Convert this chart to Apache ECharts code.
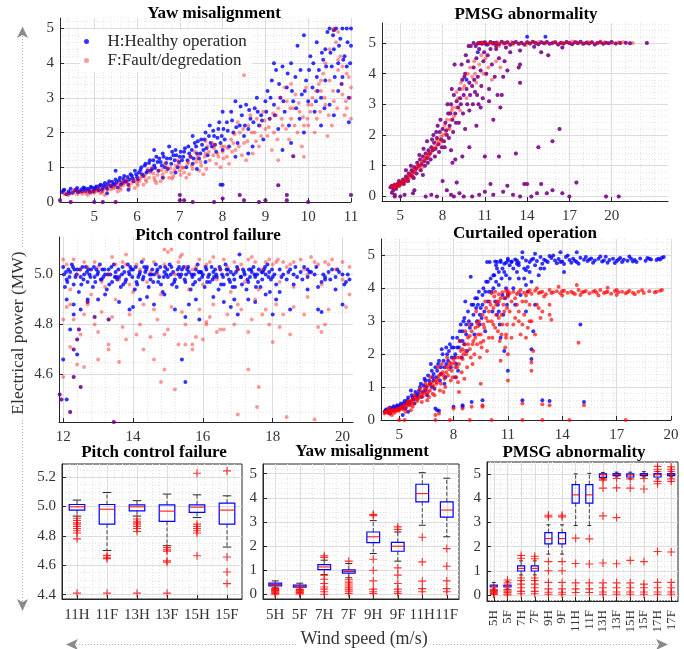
<!DOCTYPE html>
<html><head><meta charset="utf-8">
<script src="https://cdn.jsdelivr.net/npm/echarts@6/dist/echarts.min.js"></script>
<style>html,body{margin:0;padding:0;background:#fff}#c{width:684px;height:649px}</style>
</head><body><div id="c"></div>
<script>
// ---------------- DATA ----------------
// Yaw misalignment scatter [wind speed, power]
const yawH = [[4.25,0.28],[4.3,0.35],[4.35,0.22],[4.4,0.3],[4.45,0.38],[4.5,0.27],[4.55,0.33],[4.6,0.4],[4.65,0.3],[4.7,0.36],[4.75,0.42],[4.8,0.32],[4.85,0.38],[4.9,0.28],[4.95,0.41],[5.0,0.35],
[5.05,0.45],[5.1,0.33],[5.15,0.5],[5.2,0.4],[5.25,0.55],[5.3,0.38],[5.35,0.6],[5.4,0.45],[5.45,0.52],[5.5,0.65],[5.55,0.42],[5.6,0.7],[5.65,0.55],[5.7,0.75],[5.75,0.6],[5.8,0.5],[5.85,0.8],[5.9,0.68],[5.95,0.9],[6.0,0.72],[5.5,0.9],[5.3,0.25],[5.8,0.35],
[6.05,0.85],[6.1,1.0],[6.15,0.75],[6.2,1.1],[6.25,0.9],[6.3,1.2],[6.35,0.95],[6.4,1.05],[6.45,1.3],[6.5,0.9],[6.55,1.15],[6.6,1.4],[6.65,1.0],[6.7,1.25],[6.75,1.6],[6.8,1.1],[6.85,1.35],[6.9,1.5],[6.95,1.0],[7.0,1.3],[6.6,0.7],[6.4,1.5],[6.9,0.85],
[7.05,1.2],[7.1,1.45],[7.15,1.0],[7.2,1.6],[7.25,1.3],[7.3,1.1],[7.35,1.7],[7.4,1.4],[7.45,1.25],[7.5,1.8],[7.55,1.5],[7.6,2.0],[7.65,1.35],[7.7,2.2],[7.75,1.6],[7.8,1.9],[7.85,1.45],[7.9,2.1],[7.95,1.7],[8.0,1.5],[7.3,1.9],[7.6,1.15],[7.4,0.95],
[8.05,1.8],[8.1,2.3],[8.15,1.6],[8.2,2.6],[8.25,2.0],[8.3,2.9],[8.35,1.7],[8.4,2.2],[8.45,2.5],[8.5,1.9],[8.55,2.8],[8.6,2.1],[8.65,2.4],[8.7,1.6],[8.75,2.7],[8.8,3.0],[8.85,2.2],[8.9,2.5],[8.95,1.8],[9.0,2.9],[8.3,1.3],[8.6,1.4],[8.0,2.6],[7.95,0.5],[8.0,0.5],
[9.05,3.2],[9.1,2.4],[9.15,3.5],[9.2,2.8],[9.25,3.8],[9.3,2.1],[9.35,3.0],[9.4,3.9],[9.45,2.6],[9.5,3.3],[9.55,2.2],[9.6,4.0],[9.65,2.9],[9.7,3.6],[9.75,4.5],[9.8,2.4],[9.85,3.1],[9.9,4.8],[9.95,3.5],[10.0,2.9],[9.2,4.0],[9.6,1.7],[9.9,2.0],[9.4,1.5],
[10.05,4.2],[10.1,3.3],[10.15,2.6],[10.2,4.6],[10.25,3.8],[10.3,3.0],[10.35,4.1],[10.4,3.5],[10.45,4.9],[10.5,2.8],[10.55,3.9],[10.6,4.4],[10.65,5.0],[10.7,3.2],[10.75,4.7],[10.8,3.6],[10.85,4.2],[10.9,5.0],[10.95,3.0],[11.0,4.5],[10.3,2.2],[10.6,2.5],[10.8,5.0],[10.4,4.4],[10.7,4.0],[10.2,3.6],[10.9,3.9],[10.5,5.0],[11.0,5.0],[10.95,2.3]];
const yawHmore = [[4.28,0.33],[4.42,0.25],[4.58,0.36],[4.62,0.28],[4.72,0.31],[4.78,0.39],[4.88,0.34],[4.92,0.44],[4.98,0.3],[5.02,0.4],[5.08,0.38],[5.12,0.46],[5.18,0.35],[5.22,0.48],[5.28,0.44],[5.32,0.52],[5.38,0.47],[5.42,0.58],[5.48,0.5],[5.52,0.56],[5.58,0.62],[5.62,0.5],[5.68,0.66],[5.72,0.58],[5.78,0.72],[5.82,0.65],[5.88,0.75],[5.92,0.6],[5.98,0.8],[6.02,0.65],[6.08,0.92],[6.12,0.8],[6.18,1.05],[6.22,0.85],[6.28,1.12],[6.32,0.9],[6.38,1.2],[6.42,0.98],[6.48,1.15],[6.52,1.25],[6.58,1.05],[6.62,1.3],[6.68,1.12],[6.72,0.95],[6.78,1.25],[6.82,1.45],[6.88,1.2],[6.92,1.35],[6.98,1.15],[7.02,1.45],[7.08,1.3],[7.12,1.55],[7.18,1.2],[7.22,1.4],[7.28,1.5],[7.32,1.25],[7.38,1.6],[7.42,1.75],[7.48,1.4],[7.52,1.65],[7.58,1.8],[7.62,1.55],[7.68,1.9],[7.72,1.7],[7.78,2.05],[7.82,1.65],[7.88,1.85],[7.92,2.3],[7.98,1.9],[8.02,2.1],[8.12,2.05],[8.22,2.35],[8.32,2.15],[8.42,2.75],[8.52,2.2],[8.62,2.65],[8.72,2.3],[8.82,2.6],[8.92,2.35],[9.02,2.6],[9.12,3.0],[9.22,2.5],[9.32,3.4],[9.42,2.9],[9.52,3.7],[9.62,3.2],[9.72,2.7],[9.82,3.8],[9.92,3.2],[10.02,3.8],[10.12,4.0],[10.22,3.2],[10.32,4.3],[10.42,3.9],[10.52,4.3],[10.62,3.6],[10.72,4.5],[10.82,4.1],[10.92,4.6],[10.98,4.0],[10.58,4.8],[10.78,3.4],[10.38,2.7],[10.18,2.9]];
const yawF = [[4.3,0.25],[4.4,0.2],[4.5,0.3],[4.6,0.22],[4.7,0.28],[4.8,0.25],[4.9,0.32],[5.0,0.27],[4.55,0.35],[4.85,0.2],
[5.05,0.3],[5.1,0.4],[5.2,0.32],[5.3,0.45],[5.4,0.36],[5.5,0.5],[5.6,0.42],[5.7,0.55],[5.8,0.48],[5.9,0.62],[6.0,0.55],[5.25,0.2],[5.55,0.3],[5.75,0.65],[5.95,0.4],[5.15,0.25],[5.65,0.6],[5.45,0.42],
[6.05,0.6],[6.1,0.75],[6.2,0.65],[6.3,0.85],[6.4,0.7],[6.5,0.9],[6.6,0.8],[6.7,1.0],[6.8,0.85],[6.9,1.05],[7.0,0.9],[6.15,0.5],[6.35,1.0],[6.55,0.6],[6.75,0.7],[6.95,1.2],[6.25,0.95],[6.45,0.55],[6.65,1.1],[6.85,0.75],
[7.05,1.0],[7.1,0.85],[7.2,1.15],[7.3,0.95],[7.4,1.25],[7.5,1.05],[7.6,1.4],[7.7,1.2],[7.8,1.55],[7.9,1.3],[8.0,1.45],[7.15,0.7],[7.35,1.45],[7.55,0.8],[7.75,1.7],[7.95,1.0],[7.25,1.3],[7.45,0.9],[7.65,1.6],[7.85,1.1],[7.6,1.75],
[8.05,1.6],[8.1,1.3],[8.2,1.8],[8.3,1.5],[8.4,2.0],[8.5,1.7],[8.6,2.2],[8.7,1.4],[8.8,2.4],[8.9,1.9],[9.0,2.1],[8.15,1.1],[8.35,2.3],[8.55,1.2],[8.75,2.0],[8.95,2.6],[8.25,1.7],[8.45,1.35],[8.65,2.5],[8.85,1.6],[8.5,3.65],
[9.05,1.9],[9.1,2.4],[9.2,2.0],[9.3,2.7],[9.4,2.2],[9.5,2.9],[9.6,2.4],[9.7,3.1],[9.8,2.6],[9.9,2.2],[10.0,2.8],[9.15,1.5],[9.35,3.0],[9.55,1.8],[9.75,2.0],[9.95,3.3],[9.25,2.5],[9.45,3.3],[9.65,2.7],[9.85,1.6],[9.3,1.2],[9.9,1.3],
[10.05,2.6],[10.1,3.0],[10.2,2.4],[10.3,3.2],[10.4,2.8],[10.5,3.5],[10.6,2.9],[10.7,3.8],[10.8,3.1],[10.9,2.7],[11.0,3.3],[10.15,2.0],[10.35,3.7],[10.55,2.2],[10.75,4.2],[10.95,3.6],[10.25,3.4],[10.45,1.9],[10.65,4.6],[10.85,2.5],[10.6,5.0],[10.7,4.9],[11.0,2.4],[10.4,4.0],[10.8,3.9]];
const yawFmore = [[4.32,0.22],[4.48,0.26],[4.62,0.3],[4.72,0.24],[4.82,0.3],[4.92,0.26],[4.98,0.34],[5.08,0.35],[5.18,0.28],[5.22,0.38],[5.32,0.36],[5.38,0.48],[5.48,0.4],[5.58,0.52],[5.62,0.35],[5.68,0.48],[5.78,0.56],[5.82,0.42],[5.88,0.55],[5.98,0.66],[6.02,0.48],[6.08,0.68],[6.18,0.78],[6.22,0.58],[6.28,0.7],[6.38,0.82],[6.42,0.62],[6.48,0.78],[6.58,0.92],[6.62,0.7],[6.68,0.88],[6.78,0.98],[6.82,0.68],[6.88,0.92],[6.98,1.08],[7.02,0.78],[7.08,0.98],[7.18,1.1],[7.22,0.8],[7.28,1.05],[7.38,1.15],[7.42,1.35],[7.48,1.15],[7.58,1.3],[7.62,0.95],[7.68,1.45],[7.78,1.35],[7.82,1.65],[7.88,1.4],[7.98,1.6],[8.02,1.25],[8.12,1.55],[8.22,1.45],[8.28,1.95],[8.38,1.6],[8.48,2.1],[8.58,1.75],[8.68,2.0],[8.78,1.75],[8.88,2.2],[8.98,2.35],[9.08,2.15],[9.18,2.55],[9.28,1.8],[9.38,2.4],[9.48,2.1],[9.58,2.7],[9.68,2.2],[9.78,2.85],[9.88,2.45],[9.98,2.4],[10.08,2.8],[10.18,3.2],[10.28,2.6],[10.38,3.0],[10.48,2.5],[10.58,3.2],[10.68,2.7],[10.78,3.4],[10.88,2.9],[10.98,3.0],[10.5,4.4],[10.7,4.1],[10.9,3.7],[10.3,3.5],[10.0,2.2],[9.6,3.4]];
const yawBoth = [[4.2,0.05],[4.45,0.0],[5.0,0.0],[5.2,0.0],[5.5,0.0],[7.0,0.2],[7.0,0.05],[7.1,0.05],[7.3,0.0],[7.8,0.0],[8.0,0.1],[8.4,0.2],[8.5,0.05],[8.85,0.0],[9.0,0.05],[9.3,0.48],[9.5,0.2],[9.5,0.05],[9.65,1.32],[10.0,0.0],[10.6,4.95],[11.0,0.2]];

// PMSG abnormality scatter
const pmsgBoth = [[4.3,0.3],[4.4,0.35],[4.5,0.28],[4.6,0.38],[4.7,0.33],[4.8,0.4],[4.9,0.35],[5.0,0.42],[4.5,0.2],[4.7,0.25],[4.4,0.12],[4.6,0.05],[4.9,0.5],
[5.1,0.45],[5.2,0.55],[5.3,0.5],[5.4,0.65],[5.5,0.6],[5.6,0.75],[5.7,0.7],[5.8,0.85],[5.9,0.8],[6.0,0.95],[5.25,0.4],[5.55,0.5],[5.85,0.65],[5.4,0.85],[5.75,1.0],[5.95,0.6],
[6.1,0.9],[6.2,1.1],[6.3,1.0],[6.4,1.2],[6.5,1.05],[6.6,1.3],[6.7,1.15],[6.8,1.4],[6.9,1.25],[7.0,1.5],[6.15,0.75],[6.45,0.85],[6.75,1.0],[6.35,1.35],[6.65,1.55],[6.95,1.1],[6.6,0.7],[6.9,1.8],
[7.1,1.4],[7.2,1.6],[7.3,1.5],[7.4,1.75],[7.5,1.55],[7.6,1.9],[7.7,1.7],[7.8,2.1],[7.9,1.85],[8.0,2.2],[7.15,1.2],[7.45,1.3],[7.75,1.45],[7.35,2.0],[7.65,2.3],[7.95,1.6],[7.55,2.1],[7.85,2.5],[7.25,1.85],
[8.1,1.8],[8.2,2.4],[8.3,2.0],[8.4,2.7],[8.5,2.3],[8.6,3.0],[8.7,2.5],[8.8,3.3],[8.9,2.7],[9.0,3.1],[8.15,1.6],[8.45,1.9],[8.75,2.1],[8.35,3.0],[8.65,3.5],[8.95,2.4],[8.55,2.7],[8.85,4.3],[8.25,2.15],[8.6,1.5],[8.9,1.2],[8.7,1.1],
[9.1,2.9],[9.2,3.5],[9.3,3.0],[9.4,3.8],[9.5,3.3],[9.6,4.0],[9.7,3.5],[9.8,4.4],[9.9,3.7],[10.0,4.9],[9.15,2.4],[9.45,2.7],[9.75,3.0],[9.35,4.3],[9.65,4.6],[9.95,3.3],[9.55,3.9],[9.85,4.9],[9.25,3.2],[9.6,2.2],[9.9,1.6],[9.4,1.3],[9.9,2.8],
[10.1,3.6],[10.2,4.2],[10.3,3.4],[10.4,4.5],[10.5,3.9],[10.6,4.8],[10.7,4.1],[10.8,5.0],[10.9,4.4],[11.0,5.0],[10.15,3.0],[10.45,3.3],[10.75,3.6],[10.35,4.9],[10.65,5.0],[10.95,4.7],[10.55,3.0],[10.85,3.2],[10.25,3.8],[10.5,4.98],[10.4,2.3],[10.7,2.9],[10.2,5.0],
[11.1,4.0],[11.2,4.6],[11.3,3.5],[11.4,4.8],[11.5,4.3],[11.6,5.0],[11.7,3.9],[11.8,4.9],[11.9,3.3],[12.0,4.5],[12.2,3.3],[12.4,4.4],[12.6,4.1],[12.8,4.7],[11.3,3.1],[12.1,2.9],[11.6,2.5],[12.3,3.9],
[10.6,5.0],[10.8,4.97],[11.0,5.02],[11.2,4.95],[11.4,5.03],[11.6,4.98],[11.8,5.01],[12.0,4.96],[12.2,5.04],[12.4,4.99],[12.6,5.02],[12.8,4.94],[13.0,5.0],[13.2,5.03],[13.4,4.97],[13.6,5.01],[13.8,4.95],[14.0,5.02],[14.2,4.98],[14.4,5.04],[14.6,5.0],[14.8,4.96],[15.0,5.02],[15.2,4.99],[15.4,5.03],[15.6,4.97],[15.8,5.0],[16.0,5.02],[16.2,4.95],[16.4,5.01],[16.6,4.98],[16.8,5.03],[17.0,5.0],[17.2,4.96],[17.4,5.02],[17.6,4.99],[17.8,5.04],[18.0,4.97],[18.2,5.01],[18.4,4.98],[18.6,5.02],[18.8,4.95],[19.0,5.0],[19.2,5.02],[19.4,4.97],[19.6,5.01],[19.8,4.99],[20.0,5.03],[20.3,4.98],[20.6,5.0],[21.0,5.01],[21.3,4.99],[22.5,5.0],
[12.5,4.85],[13.5,4.75],[15.0,4.7],[15.5,4.6],[16.5,4.85],[14.5,4.88],[11.8,4.8],
[11.0,1.3],[12.0,1.3],[13.2,1.4],[14.8,1.6],[15.8,1.8],[16.3,2.2],[13.5,3.7],[13.5,4.3],[13.4,4.2],
[4.6,0.0],[5.0,0.0],[5.3,0.05],[6.0,0.2],[7.2,0.05],[7.6,0.0],[8.0,0.5],[8.3,0.2],[8.6,0.05],[9.0,0.45],[9.2,0.1],[9.5,0.0],[10.6,0.05],[11.0,0.15],[11.4,0.4],[11.6,0.05],[12.3,0.15],[12.6,0.35],[13.5,0.0],[13.8,0.4],[14.0,0.4],[14.3,0.0],[14.7,0.1],[15.0,0.4],[15.4,0.1],[15.8,0.2],[16.5,0.1],[17.0,0.0],[17.5,0.45],[19.6,0.0],[20.5,0.0],[5.9,0.1],[6.8,0.0],[8.8,0.0],[10.1,0.0],[13.0,0.05]];
const pmsgFonly = [[4.8,0.38],[5.2,0.48],[5.6,0.68],[6.0,0.85],[6.4,1.0],[6.8,1.2],[7.2,1.45],[7.6,1.65],[8.0,1.8],[8.3,2.5],[8.7,2.9],[9.0,3.4],[9.3,3.7],[10.3,4.0],[11.5,4.97],[12.5,5.0],[14.5,5.02],[16.5,4.99],[18.5,5.01],[20.5,5.02],[13.0,4.95],[5.5,0.55],[6.6,1.1],[7.8,1.75],[4.6,0.32],[5.0,0.36],[6.2,0.95],[7.0,1.3],[8.2,2.05],[8.5,2.2]];
const pmsgFmore = [[4.4,0.32],[4.55,0.36],[4.7,0.3],[4.85,0.42],[5.05,0.45],[5.15,0.4],[5.35,0.55],[5.45,0.5],[5.65,0.6],[5.8,0.75],[5.9,0.7],[6.05,0.8],[6.25,1.0],[6.3,0.9],[6.5,1.15],[6.55,0.95],[6.7,1.25],[6.85,1.3],[6.95,1.4],[7.05,1.35],[7.3,1.55],[7.45,1.6],[7.55,1.8],[7.7,1.85],[7.9,1.95],[8.05,2.0],[8.15,2.3],[8.4,2.2],[8.55,2.5],[8.65,2.8],[8.8,2.6],[8.95,2.9],[9.1,3.2],[9.25,2.8],[9.4,3.5],[9.55,3.6],[9.7,3.2],[9.8,4.0],[9.95,4.2],[10.1,3.9],[10.25,4.4],[10.4,3.7],[10.6,4.3],[10.75,4.6],[10.9,4.0],[11.05,4.5],[11.25,4.2],[11.5,3.8],[11.8,4.4],[12.1,4.2],[10.8,5.02],[11.3,4.98],[11.9,5.02],[12.3,4.97],[12.9,5.03],[13.5,4.98],[14.1,5.01],[14.8,5.03],[15.3,4.98],[15.9,5.02],[16.3,4.97],[16.9,5.01],[17.5,5.03],[17.9,4.98],[18.3,5.03],[18.9,4.99],[19.5,5.02],[20.1,4.99],[20.8,5.03],[21.5,5.0],[12.0,4.9],[13.9,4.93],[17.2,5.05],[19.2,5.05]];
const pmsgHonly = [[14.0,5.2],[15.3,5.2],[10.5,4.7],[9.7,3.8],[11.1,4.95]];

// Pitch control failure scatter
const pitchH = [[12.0,5.03],[12.1,4.98],[12.2,5.01],[12.3,4.96],[12.4,5.02],[12.5,4.99],[12.6,5.0],[12.7,4.97],[12.8,5.02],[12.9,4.99],[13.0,5.01],[13.1,4.98],[13.2,5.0],[13.3,5.02],[13.4,4.97],[13.5,5.01],[13.6,4.99],[13.7,5.03],[13.8,4.98],[13.9,5.0],[14.0,5.02],[14.1,4.97],[14.2,5.01],[14.3,4.99],[14.4,5.03],[14.5,4.98],[14.6,5.0],[14.7,5.02],[14.8,4.96],[14.9,5.01],[15.0,4.99],[15.1,5.03],[15.2,4.98],[15.3,5.0],[15.4,5.02],[15.5,4.97],[15.6,5.01],[15.7,4.99],[15.8,5.02],[15.9,4.98],[16.0,5.0],[16.1,5.02],[16.2,4.97],[16.3,5.01],[16.4,4.99],[16.5,5.02],[16.6,4.96],[16.7,5.0],[16.8,5.01],[16.9,4.98],[17.0,5.02],[17.1,4.99],[17.2,5.0],[17.3,4.97],[17.4,5.01],[17.5,4.99],[17.6,5.02],[17.7,4.98],[17.8,5.0],[17.9,5.01],[18.0,4.99],[18.2,5.02],[18.4,4.98],[18.6,5.0],[18.8,5.01],[19.0,4.99],[19.2,5.0],[19.4,4.97],[19.6,5.01],[19.8,4.99],[20.0,5.0],[20.2,4.98],
[12.05,4.95],[12.25,5.04],[12.45,4.93],[12.65,5.03],[12.85,4.95],[13.05,5.04],[13.25,4.94],[13.45,5.04],[13.65,4.95],[13.85,5.04],[14.05,4.94],[14.25,5.05],[14.45,4.95],[14.65,5.04],[14.85,4.93],[15.05,5.04],[15.25,4.95],[15.45,5.03],[15.65,4.94],[15.85,5.04],[16.05,4.95],[16.25,5.03],[16.45,4.94],[16.65,5.04],[16.85,4.95],[17.05,5.08],[17.25,4.94],[17.45,5.03],[17.65,4.95],[17.85,5.04],[18.1,4.96],[18.5,5.02],[18.9,5.03],[19.3,4.95],[19.7,5.02],[20.1,4.97],
[12.1,4.9],[12.3,4.88],[12.5,4.86],[12.7,4.9],[13.2,4.92],[13.6,4.89],[13.9,4.86],[14.2,4.9],[14.6,4.88],[14.9,4.92],[15.2,4.86],[15.5,4.83],[15.8,4.9],[15.9,4.82],[16.3,4.91],[16.8,4.87],[17.0,4.84],[17.3,4.9],[17.5,4.89],[18.0,4.84],[18.1,4.9],[18.5,4.86],[19.0,4.94],[19.3,4.86],[19.4,4.85],[20.0,4.88],[12.2,4.78],[12.4,4.68],[12.0,4.66],[12.1,4.5],[15.4,4.66],[15.5,4.57],[12.3,4.84],[14.0,4.87],[16.6,4.89]];
const pitchHmore = [[12.02,5.0],[12.15,5.02],[12.35,4.99],[12.55,5.03],[12.75,5.0],[12.95,5.02],[13.15,4.99],[13.35,5.0],[13.55,4.98],[13.75,5.01],[13.95,5.02],[14.15,4.99],[14.35,5.01],[14.55,5.02],[14.75,4.99],[14.95,5.0],[15.15,5.01],[15.35,4.99],[15.55,5.02],[15.75,5.0],[15.95,5.01],[16.15,4.99],[16.35,5.02],[16.55,5.0],[16.75,4.98],[16.95,5.01],[17.15,5.02],[17.35,4.99],[17.55,5.0],[17.75,5.02],[17.95,4.98],[18.3,5.0],[18.7,4.99],[19.1,5.01],[19.5,4.98],[19.9,5.01],
[12.12,4.97],[12.32,5.02],[12.52,4.96],[12.72,5.02],[12.92,4.97],[13.12,5.02],[13.32,4.96],[13.52,4.99],[13.72,4.96],[13.92,5.03],[14.12,4.96],[14.32,5.03],[14.52,5.0],[14.72,4.97],[14.92,5.03],[15.12,4.96],[15.32,5.03],[15.52,5.0],[15.72,4.96],[15.92,5.01],[16.12,4.97],[16.32,4.99],[16.52,4.96],[16.72,5.02],[16.92,4.95],[17.12,4.96],[17.32,5.02],[17.52,4.95],[17.72,5.01],[17.92,4.93],[18.2,4.93],[18.6,4.96],[19.0,5.02],[19.5,4.99],[19.8,4.94],[20.15,5.0],[13.0,4.9],[14.4,4.91],[15.6,4.88],[16.9,4.9],[17.8,4.92]];
const pitchHband = [[12.08,5.01],[12.18,4.99],[12.28,5.03],[12.38,5.0],[12.48,5.02],[12.58,4.98],[12.68,5.01],[12.78,4.99],[12.88,5.03],[12.98,5.0],[13.08,4.98],[13.18,5.02],[13.28,5.0],[13.38,5.03],[13.48,4.99],[13.58,5.02],[13.68,5.0],[13.78,4.97],[13.88,5.01],[13.98,4.99],[14.08,5.03],[14.18,5.0],[14.28,4.98],[14.38,5.02],[14.48,5.0],[14.58,4.97],[14.68,5.01],[14.78,5.03],[14.88,4.99],[14.98,5.02],[15.08,5.0],[15.18,4.97],[15.28,5.02],[15.38,5.0],[15.48,4.98],[15.58,5.03],[15.68,5.0],[15.78,4.97],[15.88,5.01],[15.98,4.99],[16.08,5.03],[16.18,5.0],[16.28,4.98],[16.38,5.0],[16.48,5.03],[16.58,4.99],[16.68,5.02],[16.78,4.97],[16.88,5.0],[16.98,5.03],[17.08,4.99],[17.18,5.01],[17.28,4.98],[17.38,5.02],[17.48,5.0],[17.58,4.97],[17.68,5.01],[17.78,5.03],[17.88,4.99],[17.98,5.02],[18.05,5.0],[18.25,4.99],[18.45,5.01],[18.65,5.03],[18.85,4.98],[19.05,5.01],[19.25,5.03],[19.45,5.0],[19.65,4.98],[19.85,5.02],[20.05,4.96]];
const pitchF = [[12.0,5.06],[12.2,4.94],[12.4,5.0],[12.6,5.05],[12.8,4.92],[13.0,5.03],[13.2,4.95],[13.4,5.07],[13.6,4.98],[13.8,5.04],[14.0,4.93],[14.2,5.02],[14.4,4.97],[14.6,5.05],[14.8,4.92],[15.0,5.09],[15.2,5.0],[15.4,5.08],[15.6,4.94],[15.8,5.03],[16.0,4.96],[16.2,5.05],[16.4,4.98],[16.6,5.06],[16.8,4.93],[17.0,5.02],[17.2,4.97],[17.4,5.07],[17.6,4.94],[17.8,5.05],[18.0,5.04],[18.2,4.97],[18.4,5.03],[18.6,4.95],[18.8,5.06],[19.0,5.0],[19.2,5.05],[19.4,4.96],[19.6,5.04],[19.8,5.02],[20.0,4.98],[20.2,5.03],
[12.1,4.87],[12.3,4.82],[12.5,4.76],[12.7,4.88],[12.9,4.8],[13.1,4.85],[13.3,4.72],[13.5,4.9],[13.7,4.79],[13.9,4.84],[14.1,4.76],[14.3,4.88],[14.5,4.75],[14.7,4.82],[14.9,4.76],[15.1,4.87],[15.3,4.72],[15.5,4.8],[15.7,4.72],[15.9,4.86],[16.1,4.81],[16.3,4.88],[16.5,4.78],[16.7,4.84],[16.9,4.8],[17.1,4.86],[17.3,4.77],[17.5,4.9],[17.7,4.84],[17.9,4.8],[18.1,4.88],[18.3,4.84],[18.5,4.76],[18.9,4.84],[19.3,4.79],[19.4,4.77],[19.5,4.8],[20.1,4.87],
[12.0,4.82],[12.2,4.71],[12.4,4.64],[12.6,4.63],[13.3,4.7],[13.6,4.65],[14.6,4.66],[14.8,4.57],[14.9,4.62],[15.2,4.54],[15.5,4.72],[16.0,4.74],[17.0,4.44],[17.3,4.62],[17.6,4.55],[17.55,4.47],[18.4,4.43],[19.2,4.42],[12.0,4.59],[16.1,4.8],
[12.5,5.02],[13.5,5.04],[14.5,5.01],[15.5,5.03],[16.5,5.02],[17.5,5.05],[18.5,5.04],[19.5,5.05],[18.1,5.05],[18.3,5.05],[17.9,5.06],[19.1,5.07],[14.9,5.1],[15.1,5.1],[15.35,5.07],[13.8,5.08]];
const pitchFmore = [[12.1,5.04],[12.3,5.06],[12.7,5.03],[12.9,5.05],[13.1,4.97],[13.3,5.0],[13.7,5.05],[13.9,4.96],[14.1,5.04],[14.3,5.06],[14.7,5.0],[14.9,5.04],[15.3,5.05],[15.7,5.02],[15.9,5.06],[16.1,5.04],[16.3,5.07],[16.7,5.03],[16.9,5.05],[17.1,5.04],[17.3,5.06],[17.7,5.02],[18.15,5.06],[18.6,5.05],[18.9,5.02],[19.3,5.04],[19.7,5.06],[20.0,5.05],
[12.2,4.88],[12.6,4.84],[13.0,4.77],[13.4,4.83],[13.8,4.74],[14.2,4.8],[14.6,4.86],[15.0,4.78],[15.4,4.85],[15.8,4.75],[16.2,4.83],[16.6,4.78],[17.0,4.88],[17.4,4.82],[17.8,4.86],[18.2,4.79],[18.6,4.87],[19.0,4.91],[19.6,4.86],[20.2,4.92],[13.0,4.66],[14.3,4.7],[16.4,4.77],[18.0,4.73],[15.7,4.7]];
const pitchBoth = [[11.9,4.52],[11.95,4.5],[12.3,4.59],[12.4,4.74],[12.45,4.78],[12.3,4.7],[12.5,4.55],[12.2,4.45],[13.3,4.82],[12.9,4.83],[12.7,4.89],[13.45,4.41]];

// Curtailed operation scatter
const curtH = [[4.2,0.25],[4.3,0.32],[4.4,0.28],[4.5,0.38],[4.6,0.3],[4.7,0.42],[4.8,0.35],[4.9,0.45],[5.0,0.38],[4.5,0.2],
[5.1,0.5],[5.2,0.42],[5.3,0.58],[5.4,0.5],[5.5,0.68],[5.6,0.55],[5.7,0.75],[5.8,0.62],[5.9,0.85],[6.0,0.7],[5.35,0.35],[5.65,0.9],[5.85,0.5],[5.5,0.25],
[6.1,0.9],[6.2,1.1],[6.3,0.85],[6.4,1.25],[6.5,1.0],[6.6,1.35],[6.7,1.1],[6.8,1.5],[6.9,1.2],[7.0,1.6],[6.25,0.7],[6.55,0.75],[6.85,1.3],[6.45,1.2],[6.75,1.7],[6.95,0.95],
[7.1,1.5],[7.2,1.8],[7.3,1.4],[7.4,2.0],[7.5,1.6],[7.6,2.2],[7.7,1.8],[7.8,2.3],[7.9,1.9],[8.0,2.2],[7.25,1.2],[7.55,1.3],[7.85,1.6],[7.35,2.15],[7.65,2.0],[7.95,2.5],[7.0,0.35],[7.1,0.3],[7.5,1.1],
[8.1,2.0],[8.2,2.5],[8.3,2.2],[8.4,2.9],[8.5,2.4],[8.6,3.1],[8.7,2.6],[8.8,3.3],[8.9,2.8],[9.0,3.5],[8.15,1.7],[8.45,1.9],[8.75,2.1],[8.35,2.7],[8.65,3.6],[8.95,4.35],[8.25,1.5],[8.55,3.0],[8.1,1.3],[8.0,0.4],[8.5,0.4],
[9.1,3.2],[9.2,3.7],[9.3,3.0],[9.4,3.9],[9.5,3.4],[9.6,3.8],[9.7,3.3],[9.8,4.2],[9.9,3.6],[10.0,4.8],[9.15,2.6],[9.45,2.9],[9.75,2.7],[9.35,3.5],[9.65,4.0],[9.95,3.9],[9.55,3.1],[9.85,4.8],[9.25,3.4],[9.0,0.55],[9.6,0.6],
[10.1,3.9],[10.2,4.4],[10.3,3.6],[10.4,4.6],[10.5,4.1],[10.6,4.8],[10.7,3.8],[10.8,4.5],[10.9,4.0],[11.0,4.85],[10.15,3.3],[10.45,3.5],[10.75,3.2],[10.35,4.2],[10.65,4.3],[10.95,3.5],[10.55,2.9],[10.85,3.7],[10.25,4.4],[10.5,3.3],[10.6,2.5],[10.8,2.1],[10.4,3.2],
[11.1,4.3],[11.3,4.0],[11.5,4.5],[11.7,3.8],[11.9,4.6],[12.1,3.9],[12.3,4.2],[12.5,3.5],[12.4,2.7],[12.3,2.15],[12.3,1.85],[11.8,0.6],[11.2,4.8],[11.6,4.7],[12.0,4.55],[12.7,4.4],[11.4,3.5],[12.0,3.3],[11.0,3.8],[11.0,1.5],
[10.4,4.8],[10.6,4.85],[10.8,4.75],[11.0,4.9],[11.2,4.82],[11.4,4.88],[11.6,4.78],[11.8,4.93],[12.0,4.85],[12.2,4.8],[12.4,4.9],[12.6,4.83],[12.8,4.95],[13.0,4.87],[13.2,4.8],[13.4,4.92],[13.6,4.85],[13.8,4.89],[14.0,4.82],[14.2,4.95],[14.4,4.86],[14.6,4.9],[14.8,4.8],[15.0,4.93],[15.2,4.87],[15.4,4.83],[15.6,4.91],[15.8,4.85],[16.0,4.9],[16.2,4.82],[16.4,4.96],[16.6,4.86],[16.8,4.9],[17.0,4.83],[17.2,4.92],[17.4,4.87],[17.6,4.84],[17.8,4.9],[18.0,4.86],[18.3,4.91],[18.6,4.84],[18.9,4.88],[19.2,4.86],[19.5,4.93],
[11.1,4.7],[11.5,4.75],[12.1,4.65],[12.9,4.75],[13.3,4.98],[13.7,4.76],[14.1,4.74],[14.5,4.78],[14.9,4.75],[15.3,4.95],[15.7,4.78],[16.1,4.97],[16.5,4.78],[16.9,4.77],[17.3,4.8],[17.7,4.97],[18.1,4.8],[18.8,4.9],[19.4,4.88],[13.5,5.0],[12.5,5.05],[14.8,5.1],[14.3,5.0],[13.9,5.1],[11.8,5.1],[13.0,4.6],[14.1,4.5],[15.0,2.9],[12.0,4.1],
[12.9,0.6],[13.3,0.58],[15.2,0.55],[8.5,0.45],[7.2,0.28],[5.2,0.15]];
const curtHmore = [[4.25,0.3],[4.35,0.24],[4.45,0.33],[4.55,0.27],[4.65,0.36],[4.75,0.3],[4.85,0.4],[4.95,0.33],[5.05,0.44],[5.15,0.38],[5.25,0.5],[5.45,0.6],[5.55,0.48],[5.75,0.68],[5.95,0.75],[6.05,0.8],[6.15,1.0],[6.35,1.05],[6.45,0.9],[6.65,1.2],[6.8,1.0],[6.9,1.4],[7.05,1.3],[7.15,1.7],[7.3,1.6],[7.45,1.8],[7.6,1.7],[7.75,2.1],[7.9,2.2],[8.05,1.9],[8.2,2.2],[8.35,2.4],[8.5,2.7],[8.6,2.3],[8.7,2.9],[8.85,3.0],[9.0,2.9],[9.1,3.5],[9.3,3.7],[9.45,3.2],[9.6,3.5],[9.75,3.9],[9.9,4.2],[10.05,4.3],[10.2,4.0],[10.35,4.7],[10.5,4.5],[10.7,4.6],[10.9,4.4],[11.3,4.6],[11.6,4.3],[11.9,4.3],[12.2,4.5],[12.5,4.7],[12.8,4.6],[10.3,4.82],[10.9,4.78],[11.5,4.85],[12.3,4.87],[13.1,4.84],[13.9,4.8],[14.7,4.84],[15.5,4.88],[16.3,4.85],[17.1,4.88],[17.9,4.82],[18.7,4.92],[19.3,4.9],[19.6,4.95]];
const curtF = [[4.2,0.2],[4.3,0.25],[4.4,0.22],[4.5,0.3],[4.6,0.25],[4.7,0.32],[4.8,0.27],[4.9,0.35],[5.0,0.3],[4.6,0.15],[4.4,0.35],
[5.1,0.38],[5.2,0.33],[5.3,0.45],[5.4,0.4],[5.5,0.52],[5.6,0.45],[5.7,0.6],[5.8,0.5],[5.9,0.68],[6.0,0.58],[5.35,0.25],[5.65,0.3],[5.85,0.75],[5.45,0.55],[5.75,0.4],
[6.1,0.7],[6.2,0.85],[6.3,0.72],[6.4,0.95],[6.5,0.8],[6.6,1.05],[6.7,0.9],[6.8,1.15],[6.9,1.0],[7.0,1.2],[6.25,0.55],[6.55,0.6],[6.85,0.8],[6.45,1.1],[6.75,1.3],[6.95,0.75],[6.15,0.95],[6.65,0.7],
[7.1,1.15],[7.2,1.35],[7.3,1.1],[7.4,1.45],[7.5,1.25],[7.6,1.6],[7.7,1.35],[7.8,1.75],[7.9,1.5],[8.0,1.85],[7.25,0.9],[7.55,1.0],[7.85,1.2],[7.35,1.7],[7.65,1.9],[7.95,1.3],[7.15,1.6],[7.45,0.85],[7.75,1.55],[7.0,0.15],[7.2,0.2],
[8.1,1.6],[8.2,1.9],[8.3,1.7],[8.4,2.1],[8.5,1.85],[8.6,2.3],[8.7,2.0],[8.8,2.5],[8.9,2.15],[9.0,2.7],[8.15,1.3],[8.45,1.45],[8.75,1.6],[8.35,2.4],[8.65,2.7],[8.95,1.9],[8.25,1.15],[8.55,2.0],[8.85,2.9],[8.6,1.25],[8.3,0.85],[8.0,0.35],[8.5,0.35],
[9.1,2.4],[9.2,2.8],[9.3,2.3],[9.4,3.0],[9.5,2.6],[9.6,3.2],[9.7,2.8],[9.8,3.4],[9.9,3.0],[10.0,3.6],[9.15,2.0],[9.35,2.6],[9.55,2.2],[9.75,3.6],[9.95,2.5],[9.25,3.3],[9.45,1.9],[9.65,2.4],[9.85,2.1],[9.05,1.7],[9.5,1.1],[9.0,0.4],[9.6,0.45],[9.3,2.95],
[10.1,3.0],[10.2,3.4],[10.3,2.8],[10.4,3.6],[10.5,3.1],[10.6,3.7],[10.7,2.9],[10.8,3.3],[10.9,2.6],[11.0,3.85],[10.15,2.5],[10.35,3.2],[10.55,2.4],[10.75,3.5],[10.95,2.9],[10.25,3.75],[10.45,2.7],[10.65,3.2],[10.85,2.2],[10.6,1.8],[11.0,1.2],[10.9,2.5],
[11.1,3.3],[11.3,2.9],[11.5,3.5],[11.7,2.6],[11.9,3.2],[12.1,2.8],[12.3,3.0],[12.5,2.6],[12.7,3.4],[11.2,2.5],[11.6,3.0],[12.0,2.5],[12.4,2.1],[12.3,1.75],[12.3,1.5],[11.4,3.7],[11.8,3.6],[12.2,3.5],[12.8,3.1],[12.9,3.3],[13.3,3.5],[13.3,3.2],[11.8,0.5],[11.0,2.0],
[10.1,3.85],[10.3,3.9],[10.5,3.82],[10.7,3.88],[10.9,3.92],[11.1,3.85],[11.3,3.9],[11.5,3.83],[11.7,3.95],[11.9,3.87],[12.1,3.9],[12.3,3.84],[12.5,3.93],[12.7,3.86],[12.9,3.9],[13.1,3.82],[13.3,3.95],[13.5,3.88],[13.7,3.91],[13.9,3.85],[14.1,3.93],[14.3,3.87],[14.5,3.9],[14.7,3.83],[14.9,3.95],[15.1,3.88],[15.3,3.92],[15.5,3.85],[15.7,3.9],[15.9,3.87],[16.1,3.95],[16.3,3.86],[16.5,3.9],[16.7,3.84],[16.9,3.92],[17.1,3.88],[17.3,3.9],[17.5,3.85],[17.7,3.93],[17.9,3.87],[18.2,3.9],[18.5,3.86],[18.8,3.91],[19.1,3.88],[19.4,3.93],[19.5,3.95],
[11.0,3.75],[12.0,3.78],[13.0,3.75],[14.0,3.78],[15.0,3.8],[16.0,3.78],[17.0,3.8],[18.0,3.82],[14.8,4.1],[13.8,4.05],[12.6,4.0],[16.5,4.02],[14.9,2.35],[13.4,3.05],
[5.0,0.0],[5.3,0.0],[7.0,0.0],[7.8,0.0],[8.9,0.0],[10.1,0.0],[11.8,0.0],[12.9,0.0],[14.4,0.0],[17.5,0.0],[12.9,0.48],[13.3,0.45],[15.2,0.45],[9.6,0.4]];
const curtFmore = [[4.25,0.24],[4.35,0.28],[4.45,0.2],[4.55,0.27],[4.65,0.3],[4.75,0.22],[4.85,0.33],[4.95,0.28],[5.05,0.35],[5.15,0.42],[5.25,0.36],[5.45,0.46],[5.55,0.58],[5.65,0.5],[5.75,0.62],[5.95,0.62],[6.05,0.65],[6.2,0.75],[6.35,0.82],[6.5,0.95],[6.6,0.85],[6.7,1.1],[6.85,1.05],[7.05,1.1],[7.15,1.25],[7.3,1.4],[7.45,1.35],[7.6,1.45],[7.75,1.65],[7.9,1.7],[8.05,1.75],[8.2,1.6],[8.35,1.9],[8.5,2.15],[8.65,2.1],[8.8,2.3],[8.9,2.55],[9.05,2.3],[9.2,2.5],[9.35,2.85],[9.5,2.35],[9.65,2.9],[9.8,3.1],[9.95,3.3],[10.05,3.5],[10.2,2.9],[10.35,3.5],[10.5,3.6],[10.65,2.6],[10.8,3.7],[10.95,3.4],[11.2,3.6],[11.4,3.1],[11.6,3.3],[11.8,2.9],[12.0,3.6],[12.2,3.0],[12.6,3.5],[11.0,3.92],[11.6,3.88],[12.2,3.94],[12.8,3.88],[13.4,3.86],[14.0,3.92],[14.6,3.86],[15.2,3.9],[15.8,3.93],[16.4,3.88],[17.0,3.95],[17.6,3.88],[18.4,3.94],[19.2,3.9]];

// Box plots: stats = [lower whisker, Q1, median, Q3, upper whisker]
const pitchBoxCats = ['11H','11F','13H','13F','15H','15F'];
const pitchBoxStats = [[4.935,4.976,4.998,5.014,5.044],[4.70,4.88,4.982,5.014,5.096],[4.935,4.97,4.998,5.012,5.04],[4.733,4.899,4.969,5.012,5.085],[4.925,4.96,4.996,5.012,5.08],[4.724,4.88,4.976,5.023,5.073]];
const pitchBoxOut = [[4.92,4.905,4.89,4.88,4.865,4.85,4.835,4.82,4.78,4.41],[4.667,4.655,4.645,4.41],[4.915,4.9,4.89,4.88,4.865,4.85,4.83,4.41],[4.72,4.705,4.695,4.63,4.62,4.41],[4.88,4.865,4.85,4.835,4.82,4.665,5.227],[4.656,4.554,4.475,5.243]];

const yawBoxCats = ['5H','5F','7H','7F','9H','9F','11H','11F'];
const yawBoxStats = [[0.26,0.345,0.40,0.456,0.55],[0.21,0.29,0.33,0.373,0.456],[0.81,1.02,1.13,1.23,1.41],[0.68,0.87,0.94,1.008,1.27],[1.685,2.14,2.38,2.58,3.05],[1.37,1.78,1.99,2.15,2.58],[2.86,3.83,4.17,4.56,5.04],[2.38,3.2,3.49,3.83,4.81]];
const yawBoxOut = [[0.24,0.21,0.18,0.15,0.12,0.09,0.06,0.03,0.0],[0.19,0.16,0.13,0.1,0.07,0.04,0.01],[1.59,1.52,0.79,0.62,0.44,0.3,0.21,0.1,0.0],[1.37,0.6,0.5,0.42,0.34,0.26,0.18,0.1,0.03],[3.31,3.26,1.45,0.99,0.55,0.21,0.1,0.03],[2.79,2.69,1.09,0.79,0.44,0.21,0.1,0.03],[2.36,1.34,0.54,0.23,0.1],[1.89,1.16,0.55,0.23,0.1]];

const pmsgBoxCats = ['5H','5F','7H','7F','9H','9F','11H','11F','13H','13F','15H','15F','17H','17F'];
const pmsgBoxStats = [[0.25,0.33,0.37,0.41,0.52],[0.25,0.33,0.37,0.41,0.55],[0.83,0.99,1.10,1.20,1.41],[0.83,0.99,1.10,1.20,1.41],[1.69,2.11,2.33,2.58,2.9],[1.69,2.11,2.33,2.58,2.9],[2.87,3.80,4.14,4.56,5.01],[2.87,3.80,4.14,4.56,5.03],[4.8,4.86,4.97,5.01,5.07],[4.88,4.94,4.99,5.02,5.08],[4.8,4.88,4.96,5.01,5.08],[4.88,4.94,4.99,5.02,5.1],[4.8,4.88,4.97,5.02,5.1],[4.88,4.94,4.99,5.02,5.1]];
const pmsgBoxOut = [[0.22,0.18,0.14,0.1,0.06,0.02],[0.62,0.5,0.22,0.16,0.1,0.04,0.0],[1.63,1.52,0.7,0.6,0.45,0.3,0.15,0.05],[1.6,1.5,0.7,0.6,0.45,0.3,0.15,0.05],[3.30,3.23,1.38,1.0,0.52,0.25,0.11,0.03],[3.30,3.23,1.38,1.0,0.52,0.25,0.11,0.03],[2.35,1.3,0.5,0.25,0.1],[2.32,1.28,0.5,0.25,0.1],[4.8,4.75,4.42,3.27,1.32,0.5,0.3,0.12,0.03],[4.82,4.43,3.2,1.29,0.5,0.3,0.12,0.03],[4.8,4.42,1.43,0.5,0.3,0.12,0.03],[4.82,4.38,1.38,0.45,0.3,0.12,0.03],[5.32,5.2,5.12,4.7,4.6,1.8,0.52,0.3,0.12,0.03],[5.3,5.2,5.12,4.8,4.7,1.78,0.52,0.3,0.12,0.03]];

// Tick labels
const ticks0to5 = [0,1,2,3,4,5];
const yawXTicks = [5,6,7,8,9,10,11];
const wideXTicks = [5,8,11,14,17,20];
const pitchXTicks = [12,14,16,18,20];
const pitchYTicks = [4.6,4.8,5.0];
const pitchBoxYTicks = [4.4,4.6,4.8,5.0,5.2];

// ---------------- CHART ----------------
const FONT = "'Liberation Serif', 'DejaVu Serif', serif";
const AX = '#262626';
const NAME_H = 'H:Healthy operation', NAME_F = 'F:Fault/degredation';

function vAxis(o) {
  return {
    type: 'value', gridIndex: o.g, min: o.min, max: o.max, splitNumber: o.split || 5,
    axisLine: {show: true, onZero: false, lineStyle: {color: AX, width: 1}},
    axisTick: {show: true, inside: true, length: 4, customValues: o.ticks, lineStyle: {color: AX}},
    axisLabel: {customValues: o.ticks, formatter: o.fmt || (v => String(v)), fontFamily: FONT, fontSize: o.fs || 15,
      color: '#333', margin: o.margin || 6, rotate: o.rotate || 0, showMinLabel: true, showMaxLabel: true, hideOverlap: false},
    splitLine: {show: true, lineStyle: {color: '#dcdcdc', width: 1}},
    minorTick: {show: false, splitNumber: o.minor || 5},
    minorSplitLine: {show: true, lineStyle: {color: '#e4e4e4', width: 1, type: [1, 2]}}
  };
}
function catAxis(g, cats, rotate, fs) {
  const t = cats.map((c, i) => i + 1);
  return vAxis({g, min: 0.5, max: cats.length + 0.5, ticks: t, fmt: v => cats[Math.round(v) - 1],
    margin: 9, rotate: rotate || 0, minor: 4, fs: fs});
}
function sc(g, data, color, name) {
  const s = {type: 'scatter', xAxisIndex: g, yAxisIndex: g, data, symbolSize: 4, symbol: 'circle',
    itemStyle: {color}, silent: true, animation: false, clip: false};
  if (name) s.name = name;
  return s;
}
function renderBox(params, api) {
  const x = api.value(0);
  const lo = api.coord([x, api.value(1)]), q1 = api.coord([x, api.value(2)]), md = api.coord([x, api.value(3)]),
        q3 = api.coord([x, api.value(4)]), hi = api.coord([x, api.value(5)]);
  const bw = api.size([1, 0])[0] * 0.52;
  const cx = lo[0], cap = bw * 0.55;
  const blk = {stroke: AX, lineWidth: 1};
  const dash = {stroke: '#444', lineWidth: 1, lineDash: [4, 2]};
  return {type: 'group', children: [
    {type: 'line', shape: {x1: cx, y1: q3[1], x2: cx, y2: hi[1]}, style: dash},
    {type: 'line', shape: {x1: cx, y1: q1[1], x2: cx, y2: lo[1]}, style: dash},
    {type: 'line', shape: {x1: cx - cap / 2, y1: hi[1], x2: cx + cap / 2, y2: hi[1]}, style: blk},
    {type: 'line', shape: {x1: cx - cap / 2, y1: lo[1], x2: cx + cap / 2, y2: lo[1]}, style: blk},
    {type: 'rect', shape: {x: cx - bw / 2, y: q3[1], width: bw, height: Math.max(1, q1[1] - q3[1])},
      style: {fill: 'none', stroke: '#0000ff', lineWidth: 1.2}},
    {type: 'line', shape: {x1: cx - bw / 2, y1: md[1], x2: cx + bw / 2, y2: md[1]}, style: {stroke: '#ff0000', lineWidth: 1}}
  ]};
}
function boxSeries(g, stats) {
  return {type: 'custom', xAxisIndex: g, yAxisIndex: g, data: stats.map((s, i) => [i + 1].concat(s)),
    encode: {x: 0, y: [1, 2, 3, 4, 5]}, renderItem: renderBox, silent: true, animation: false, clip: false, z: 3};
}
function outSeries(g, outs) {
  const data = [];
  outs.forEach((arr, i) => arr.forEach(v => data.push([i + 1, v])));
  return {type: 'scatter', xAxisIndex: g, yAxisIndex: g, data, symbol: 'path://M5,0L5,10M0,5L10,5',
    symbolSize: 8, itemStyle: {color: 'rgba(0,0,0,0)', borderColor: '#ff0000', borderWidth: 1.1},
    silent: true, animation: false, clip: false, z: 4};
}

const grids = [
  {left: 60, top: 18, width: 291, height: 184},
  {left: 382, top: 23, width: 286, height: 178},
  {left: 59, top: 237, width: 294, height: 185},
  {left: 381, top: 239, width: 290, height: 181},
  {left: 62, top: 464, width: 180, height: 135, show: true, borderColor: AX, borderWidth: 1},
  {left: 263, top: 464, width: 196, height: 135, show: true, borderColor: AX, borderWidth: 1},
  {left: 487, top: 462, width: 191, height: 139, show: true, borderColor: AX, borderWidth: 1}
];

const xAxes = [
  vAxis({g: 0, min: 4.2, max: 11, ticks: yawXTicks, margin: 8}),
  vAxis({g: 1, min: 3.7, max: 24, ticks: wideXTicks, margin: 8}),
  vAxis({g: 2, min: 11.88, max: 20.3, ticks: pitchXTicks, margin: 8}),
  vAxis({g: 3, min: 4, max: 20, ticks: wideXTicks, margin: 8}),
  catAxis(4, pitchBoxCats),
  catAxis(5, yawBoxCats),
  catAxis(6, pmsgBoxCats, 90, 13)
];
const yAxes = [
  vAxis({g: 0, min: 0, max: 5.3, ticks: ticks0to5}),
  vAxis({g: 1, min: -0.15, max: 5.65, ticks: ticks0to5}),
  vAxis({g: 2, min: 4.41, max: 5.15, ticks: pitchYTicks, fmt: v => v.toFixed(1), minor: 2}),
  vAxis({g: 3, min: 0, max: 5.5, ticks: ticks0to5}),
  vAxis({g: 4, min: 4.37, max: 5.29, ticks: pitchBoxYTicks, fmt: v => v.toFixed(1), minor: 4}),
  vAxis({g: 5, min: -0.2, max: 5.4, ticks: ticks0to5}),
  vAxis({g: 6, min: -0.25, max: 5.5, ticks: ticks0to5})
];

const BLUE = '#0000ff';
const series = [
  sc(0, yawH.concat(yawHmore, yawBoth), BLUE, NAME_H),
  sc(0, yawF.concat(yawFmore, yawBoth), 'rgba(255,0,0,0.5)', NAME_F),
  sc(1, pmsgBoth.concat(pmsgHonly), BLUE),
  sc(1, pmsgBoth.concat(pmsgFonly, pmsgFmore), 'rgba(255,0,0,0.55)'),
  sc(2, pitchH.concat(pitchHmore, pitchHband, pitchBoth), BLUE),
  sc(2, pitchF.concat(pitchFmore, pitchBoth), 'rgba(255,0,0,0.5)'),
  sc(3, curtH.concat(curtHmore), BLUE),
  sc(3, curtF.concat(curtFmore), 'rgba(255,0,0,0.85)'),
  boxSeries(4, pitchBoxStats), outSeries(4, pitchBoxOut),
  boxSeries(5, yawBoxStats), outSeries(5, yawBoxOut),
  boxSeries(6, pmsgBoxStats), outSeries(6, pmsgBoxOut)
];

function title(text, x, y) {
  return {type: 'text', x, y, z: 50, style: {text, fontFamily: FONT, fontSize: 17, fontWeight: 'bold', fill: '#000',
    align: 'center', verticalAlign: 'middle'}};
}
const GRAY = '#8a8a8a';
const graphic = [
  title('Yaw misalignment', 214, 14),
  title('PMSG abnormality', 526, 15),
  title('Pitch control failure', 208, 236),
  title('Curtailed operation', 525, 234),
  title('Pitch control failure', 154, 453),
  title('Yaw misalignment', 362, 452),
  title('PMSG abnormality', 574, 453),
  {type: 'line', shape: {x1: 22.5, y1: 36, x2: 22.5, y2: 601}, style: {stroke: '#b0b0b0', lineWidth: 1, lineDash: [1, 2]}},
  {type: 'line', shape: {x1: 76, y1: 644.5, x2: 658, y2: 644.5}, style: {stroke: '#b0b0b0', lineWidth: 1, lineDash: [1, 2]}},
  {type: 'polygon', shape: {points: [[22.5, 26.5], [28, 38], [22.5, 35], [17, 38]]}, style: {fill: GRAY}},
  {type: 'polygon', shape: {points: [[22.5, 611], [28, 599], [22.5, 602], [17, 599]]}, style: {fill: GRAY}},
  {type: 'polygon', shape: {points: [[66, 644.5], [78, 639], [75, 644.5], [78, 650]]}, style: {fill: GRAY}},
  {type: 'polygon', shape: {points: [[668, 644.5], [656, 639], [659, 644.5], [656, 650]]}, style: {fill: GRAY}},
  {type: 'text', x: 18, y: 333, rotation: Math.PI / 2, z: 50, style: {text: 'Electrical power (MW)', fontFamily: FONT, fontSize: 17.5,
    fill: '#333', align: 'center', verticalAlign: 'middle', backgroundColor: '#fff', padding: [0, 3]}},
  {type: 'text', x: 364, y: 639, z: 50, style: {text: 'Wind speed (m/s)', fontFamily: FONT, fontSize: 18,
    fill: '#333', align: 'center', verticalAlign: 'middle', backgroundColor: '#fff', padding: [0, 3]}}
];

const chart = echarts.init(document.getElementById('c'), null, {renderer: 'canvas'});
chart.setOption({
  backgroundColor: '#fff',
  animation: false,
  grid: grids,
  xAxis: xAxes,
  yAxis: yAxes,
  legend: {data: [NAME_H, NAME_F], orient: 'vertical', left: 80, top: 30, itemGap: 2, itemWidth: 32, itemHeight: 5,
    icon: 'circle', selectedMode: false, backgroundColor: '#fff', padding: [3, 5, 3, 4],
    textStyle: {fontFamily: FONT, fontSize: 17, color: '#262626'}, z: 20},
  series,
  graphic
});
</script></body></html>
